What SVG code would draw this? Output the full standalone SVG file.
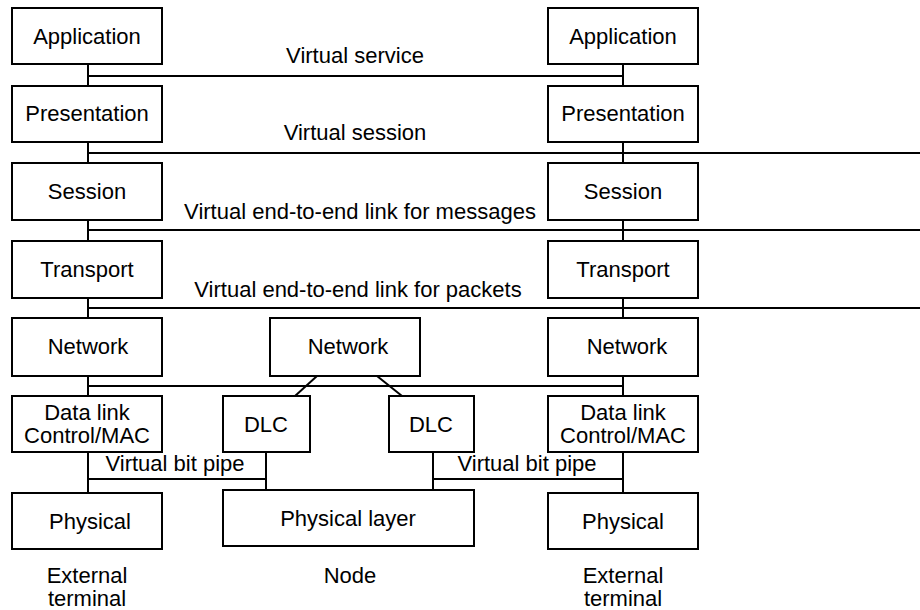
<svg xmlns="http://www.w3.org/2000/svg" width="920" height="610" viewBox="0 0 920 610">
<style>
rect{fill:#fff;stroke:#000;stroke-width:2}
line{stroke:#000;stroke-width:2}
text{font-family:"Liberation Sans",Arial,sans-serif;font-size:22px;fill:#000;text-anchor:middle}
</style>
<rect width="920" height="610" style="stroke:none"/>
<g id="connectors">
<line x1="88" y1="64" x2="88" y2="86"/><line x1="88" y1="142" x2="88" y2="163"/><line x1="88" y1="220" x2="88" y2="241"/><line x1="88" y1="298" x2="88" y2="318"/><line x1="88" y1="376" x2="88" y2="396"/><line x1="88" y1="452" x2="88" y2="493"/>
<line x1="623" y1="64" x2="623" y2="86"/><line x1="623" y1="142" x2="623" y2="163"/><line x1="623" y1="220" x2="623" y2="241"/><line x1="623" y1="298" x2="623" y2="318"/><line x1="623" y1="376" x2="623" y2="396"/><line x1="623" y1="452" x2="623" y2="493"/>
<line x1="87" y1="76" x2="624" y2="76"/>
<line x1="87" y1="153" x2="920" y2="153"/>
<line x1="87" y1="230" x2="920" y2="230"/>
<line x1="87" y1="308" x2="920" y2="308"/>
<line x1="87" y1="386" x2="624" y2="386"/>
<line x1="317" y1="376" x2="295" y2="396"/>
<line x1="377" y1="376" x2="402" y2="396"/>
<line x1="87" y1="479" x2="267" y2="479"/><line x1="266" y1="452" x2="266" y2="490"/>
<line x1="432" y1="479" x2="624" y2="479"/><line x1="433" y1="452" x2="433" y2="490"/>
<text x="355" y="63">Virtual service</text>
<text x="355" y="140">Virtual session</text>
<text x="360" y="219">Virtual end-to-end link for messages</text>
<text x="358" y="297">Virtual end-to-end link for packets</text>
<text x="175" y="471">Virtual bit pipe</text>
<text x="527" y="471">Virtual bit pipe</text>
</g>
<g id="app-l"><rect x="12" y="8" width="150" height="56"/><text x="87" y="44">Application</text></g>
<g id="pres-l"><rect x="12" y="86" width="150" height="56"/><text x="87" y="121">Presentation</text></g>
<g id="sess-l"><rect x="12" y="163" width="150" height="57"/><text x="87" y="199">Session</text></g>
<g id="trans-l"><rect x="12" y="241" width="150" height="57"/><text x="87" y="277">Transport</text></g>
<g id="net-l"><rect x="12" y="318" width="150" height="58"/><text x="88" y="354">Network</text></g>
<g id="dl-l"><rect x="12" y="396" width="150" height="56"/><text x="87" y="420">Data link</text><text x="87" y="443">Control/MAC</text></g>
<g id="phys-l"><rect x="12" y="493" width="150" height="56"/><text x="90" y="529">Physical</text></g>
<g id="app-r"><rect x="548" y="8" width="150" height="56"/><text x="623" y="44">Application</text></g>
<g id="pres-r"><rect x="548" y="86" width="150" height="56"/><text x="623" y="121">Presentation</text></g>
<g id="sess-r"><rect x="548" y="163" width="150" height="57"/><text x="623" y="199">Session</text></g>
<g id="trans-r"><rect x="548" y="241" width="150" height="57"/><text x="623" y="277">Transport</text></g>
<g id="net-r"><rect x="548" y="318" width="150" height="58"/><text x="627" y="354">Network</text></g>
<g id="dl-r"><rect x="548" y="396" width="150" height="56"/><text x="623" y="420">Data link</text><text x="623" y="443">Control/MAC</text></g>
<g id="phys-r"><rect x="548" y="493" width="150" height="56"/><text x="623" y="529">Physical</text></g>
<g id="net-m"><rect x="270" y="318" width="150" height="58"/><text x="348" y="354">Network</text></g>
<g id="dlc-1"><rect x="223" y="396" width="87" height="56"/><text x="266" y="432">DLC</text></g>
<g id="dlc-2"><rect x="389" y="396" width="85" height="56"/><text x="431" y="432">DLC</text></g>
<g id="phys-m"><rect x="223" y="490" width="251" height="56"/><text x="348" y="526">Physical layer</text></g>
<g id="labels">
<text x="87" y="583">External</text><text x="87" y="606">terminal</text>
<text x="350" y="583">Node</text>
<text x="623" y="583">External</text><text x="623" y="606">terminal</text>
</g>
</svg>
